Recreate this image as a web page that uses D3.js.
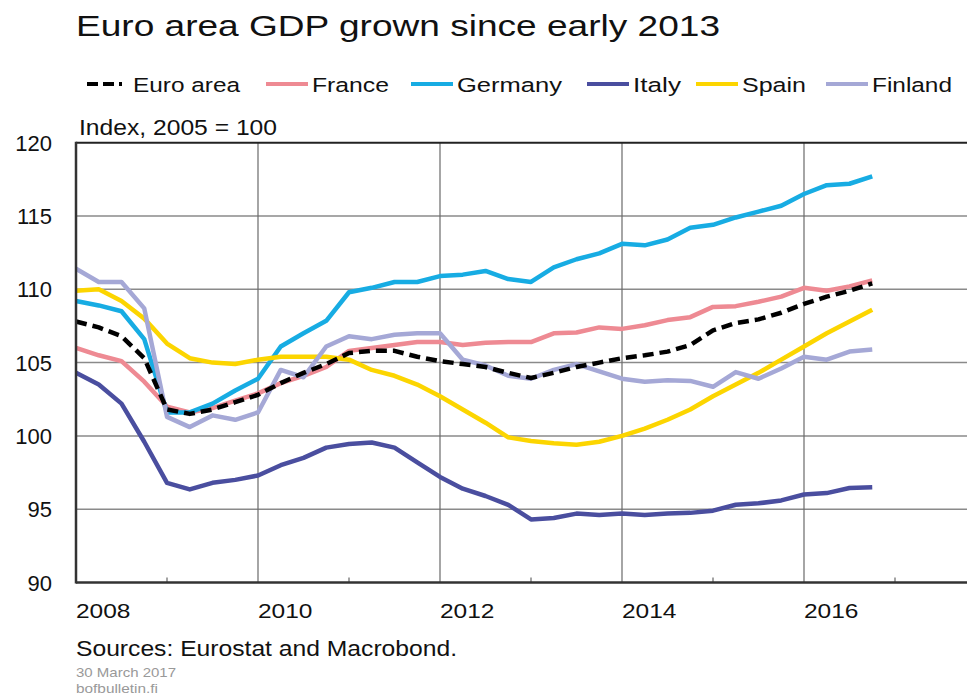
<!DOCTYPE html>
<html>
<head>
<meta charset="utf-8">
<script src="https://cdn.jsdelivr.net/npm/d3@7"></script>
<style>
  html, body { margin: 0; padding: 0; background: #fff; }
  svg { display: block; font-family: "Liberation Sans", Arial, sans-serif; }
</style>
</head>
<body>
<div id="vis"></div>
<script>
// quarterly observations, 2008Q1 .. 2016Q4
var quarters = ["2008Q1","2008Q2","2008Q3","2008Q4","2009Q1","2009Q2","2009Q3","2009Q4",
  "2010Q1","2010Q2","2010Q3","2010Q4","2011Q1","2011Q2","2011Q3","2011Q4",
  "2012Q1","2012Q2","2012Q3","2012Q4","2013Q1","2013Q2","2013Q3","2013Q4",
  "2014Q1","2014Q2","2014Q3","2014Q4","2015Q1","2015Q2","2015Q3","2015Q4",
  "2016Q1","2016Q2","2016Q3","2016Q4"];

var euroArea = [107.8,107.4,106.8,105.3,101.8,101.5,101.8,102.3,102.8,103.6,104.3,104.9,
  105.65,105.8,105.8,105.4,105.1,104.9,104.7,104.3,103.95,104.3,104.7,105.0,
  105.3,105.5,105.75,106.2,107.2,107.7,107.95,108.4,109.0,109.5,109.9,110.4];
var france = [106.0,105.5,105.1,103.7,102.0,101.6,101.9,102.4,102.9,103.6,104.1,104.7,
  105.8,106.0,106.2,106.4,106.4,106.2,106.35,106.4,106.4,107.0,107.05,107.4,
  107.3,107.55,107.9,108.1,108.8,108.85,109.15,109.5,110.1,109.9,110.2,110.6];
var germany = [109.2,108.9,108.5,106.6,101.6,101.6,102.2,103.1,103.9,106.1,107.0,107.85,
  109.8,110.1,110.5,110.5,110.9,111.0,111.25,110.7,110.5,111.5,112.05,112.45,
  113.1,113.0,113.4,114.2,114.4,114.9,115.3,115.7,116.5,117.1,117.2,117.7];
var italy = [104.3,103.5,102.2,99.6,96.8,96.35,96.8,97.0,97.3,98.0,98.5,99.2,
  99.45,99.55,99.2,98.2,97.2,96.4,95.9,95.3,94.3,94.4,94.7,94.6,
  94.7,94.6,94.7,94.75,94.9,95.3,95.4,95.6,96.0,96.1,96.45,96.5];
var spain = [109.9,110.0,109.2,108.0,106.3,105.3,105.0,104.9,105.2,105.4,105.4,105.4,
  105.2,104.5,104.1,103.5,102.7,101.8,100.9,99.9,99.65,99.5,99.4,99.6,
  100.0,100.5,101.1,101.8,102.7,103.5,104.3,105.2,106.1,107.0,107.8,108.6];
var finland = [111.4,110.5,110.5,108.7,101.3,100.6,101.4,101.1,101.6,104.5,104.0,106.1,
  106.8,106.6,106.9,107.0,107.0,105.2,104.8,104.1,103.9,104.5,104.9,104.4,
  103.9,103.7,103.8,103.75,103.35,104.35,103.9,104.6,105.4,105.2,105.75,105.9];

var seriesNames = ["Euro area","France","Germany","Italy","Spain","Finland"];
var seriesColors = ["#000000","#ee8a93","#17ace3","#4a4e9f","#fcd500","#a5a8d6"];
var yTicks = [90,95,100,105,110,115,120];
var xTicks = [2008,2010,2012,2014,2016];

var W = 967, H = 697;
var plot = {left: 76, top: 142.7, right: 986, bottom: 582.5};

var svg = d3.select("#vis").append("svg")
  .attr("width", W)
  .attr("height", H);

function qToYear(q) {
  return +q.slice(0,4) + (+q.slice(5) - 1) / 4;
}

var x = d3.scaleLinear().domain([2008, 2018]).range([plot.left, plot.right]);
var y = d3.scaleLinear().domain([90, 120]).range([plot.bottom, plot.top]);

// text helper, the source artwork is a bit wider than plain Arial
function label(g, str, px, py, size, width, color) {
  var t = g.append("text")
    .attr("x", px).attr("y", py)
    .style("font-size", size + "px")
    .attr("fill", color || "#111")
    .text(str);
  if (width) t.attr("textLength", width).attr("lengthAdjust", "spacingAndGlyphs");
  return t;
}

// title
label(svg, "Euro area GDP grown since early 2013", 76, 36, 29.5, 644);

// legend
var legX = [87, 266, 411, 587, 696, 826];
var legW = [107, 77, 105, 48, 64, 80];
var legend = svg.append("g");
seriesNames.forEach(function(name, i) {
  legend.append("line")
    .attr("x1", legX[i]).attr("x2", legX[i] + 42)
    .attr("y1", 84).attr("y2", 84)
    .attr("stroke", seriesColors[i])
    .attr("stroke-width", 4)
    .attr("stroke-dasharray", i === 0 ? "11,5,11,5,3" : null);
  label(legend, name, legX[i] + 46, 92, 20.5, legW[i]);
});

label(svg, "Index, 2005 = 100", 79, 135, 22, 198);

// grid
var grid = svg.append("g");
grid.selectAll(".hg").data(yTicks.filter(function(d){ return d > 90 && d < 120; }))
  .enter().append("line")
  .attr("x1", plot.left).attr("x2", W)
  .attr("y1", function(d){ return y(d); }).attr("y2", function(d){ return y(d); })
  .attr("stroke", "#8a8a8a").attr("stroke-width", 1.5);
grid.selectAll(".vg").data(xTicks.slice(1))
  .enter().append("line")
  .attr("x1", function(d){ return x(d); }).attr("x2", function(d){ return x(d); })
  .attr("y1", plot.top).attr("y2", plot.bottom)
  .attr("stroke", "#6a6a6a").attr("stroke-width", 1.2);

// minor ticks on odd years
var oddYears = [2009, 2011, 2013, 2015, 2017];
grid.selectAll(".mt").data(oddYears)
  .enter().append("line")
  .attr("x1", function(d){ return x(d); }).attr("x2", function(d){ return x(d); })
  .attr("y1", plot.bottom - 5).attr("y2", plot.bottom)
  .attr("stroke", "#666").attr("stroke-width", 1.2);

// series lines
var all = [euroArea, france, germany, italy, spain, finland];
var line = d3.line()
  .x(function(d, i){ return x(qToYear(quarters[i])); })
  .y(function(d){ return y(d); });

var drawOrder = [1, 2, 3, 4, 5, 0];
drawOrder.forEach(function(k) {
  svg.append("path")
    .datum(all[k])
    .attr("d", line)
    .attr("fill", "none")
    .attr("stroke", seriesColors[k])
    .attr("stroke-width", 4.5)
    .attr("stroke-linejoin", "round")
    .attr("stroke-dasharray", k === 0 ? "11,6" : null);
});

// frame
svg.append("line").attr("x1", plot.left).attr("x2", W).attr("y1", plot.top).attr("y2", plot.top)
  .attr("stroke", "#222").attr("stroke-width", 2);
svg.append("line").attr("x1", plot.left).attr("x2", W).attr("y1", plot.bottom).attr("y2", plot.bottom)
  .attr("stroke", "#333").attr("stroke-width", 2.5);
svg.append("line").attr("x1", plot.left).attr("x2", plot.left).attr("y1", plot.top - 1).attr("y2", plot.bottom + 1)
  .attr("stroke", "#333").attr("stroke-width", 2.5);

// y tick labels
svg.append("g").selectAll("text").data(yTicks).enter().append("text")
  .attr("x", 52)
  .attr("y", function(d){ return y(d) + 8; })
  .attr("text-anchor", "end")
  .style("font-size", "22px")
  .attr("fill", "#111")
  .text(function(d){ return d; });

// x tick labels, left aligned at year start
var xl = svg.append("g");
xTicks.forEach(function(yr) {
  label(xl, String(yr), x(yr), 618, 21, 54.5);
});

// footer
label(svg, "Sources: Eurostat and Macrobond.", 76, 656, 22, 381);
label(svg, "30 March 2017", 76, 677, 13, 100, "#999");
label(svg, "bofbulletin.fi", 76, 693, 13, 82, "#999");
</script>
</body>
</html>
